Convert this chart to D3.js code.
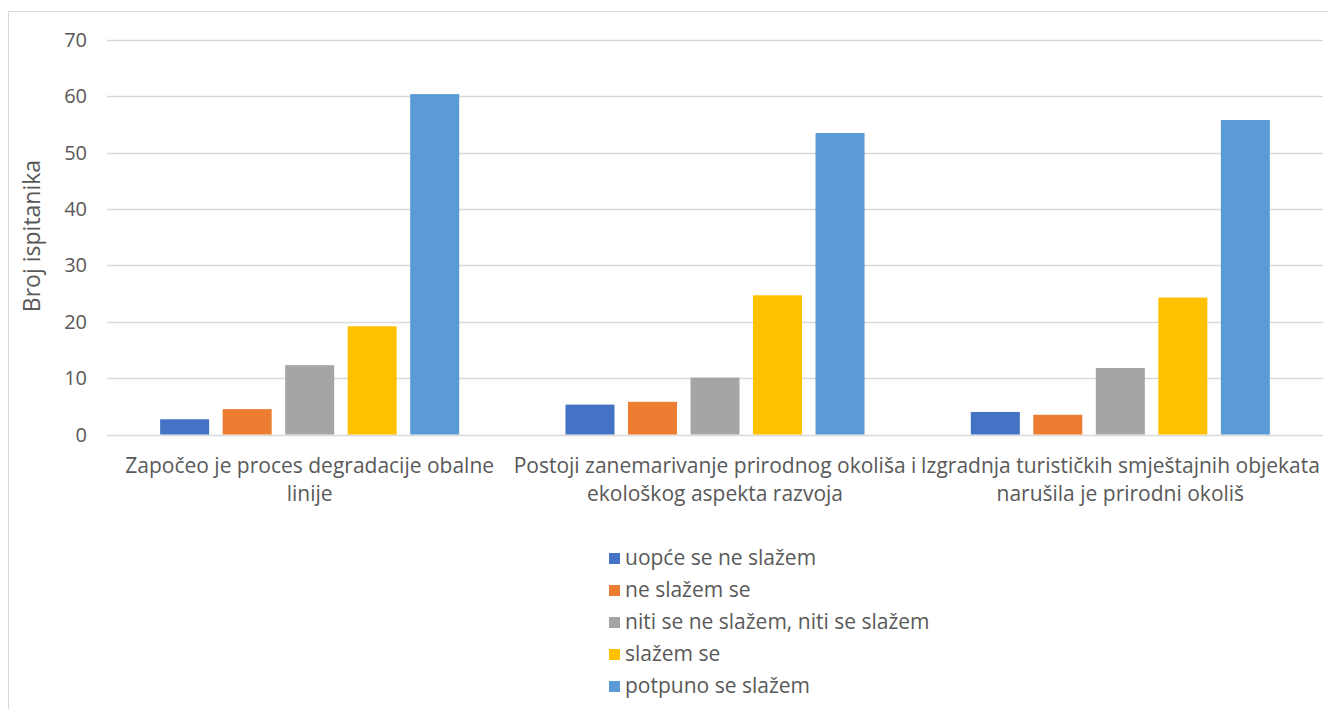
<!DOCTYPE html>
<html>
<head>
<meta charset="utf-8">
<script src="https://cdn.jsdelivr.net/npm/d3@7"></script>
<style>
  body { margin: 0; background: #fff; }
  text { font-family: "Open Sans", "Noto Sans", sans-serif; fill: #595959; }
</style>
</head>
<body>
<script>
// categories (two lines each, as wrapped in the original)
var categories = ["c1", "c2", "c3"];
var categoryLines = [
    ["Započeo je proces degradacije obalne", "linije"],
    ["Postoji zanemarivanje prirodnog okoliša i", "ekološkog aspekta razvoja"],
    ["Izgradnja turističkih smještajnih objekata", "narušila je prirodni okoliš"]
];
var seriesNames = ["uopće se ne slažem", "ne slažem se", "niti se ne slažem, niti se slažem", "slažem se", "potpuno se slažem"];
var seriesColors = ["#4472C4", "#ED7D31", "#A5A5A5", "#FFC000", "#5B9BD5"];

// values per series, one per category
var uopce = [2.7, 5.3, 4.0];
var neSlazem = [4.5, 5.8, 3.5];
var niti = [12.3, 10.1, 11.8];
var slazem = [19.2, 24.7, 24.3];
var potpuno = [60.4, 53.5, 55.8];
var seriesValues = [uopce, neSlazem, niti, slazem, potpuno];

var yTicks = [0, 10, 20, 30, 40, 50, 60, 70];

var width = 1328, height = 709;
var svg = d3.select("body").append("svg").attr("width", width).attr("height", height);

// chart border
svg.append("rect")
    .attr("x", 8.5).attr("y", 11.5)
    .attr("width", 1330).attr("height", 720)
    .attr("fill", "none").attr("stroke", "#d9d9d9");

var plotLeft = 107, plotRight = 1323, plotTop = 40, plotBottom = 434.5;

var y = d3.scaleLinear().domain([0, 70]).range([plotBottom, plotTop]);
var x0 = d3.scaleBand().domain(categories).range([plotLeft, plotRight]);
var x1 = d3.scaleBand().domain(d3.range(seriesNames.length))
    .range([0, x0.bandwidth()]).paddingInner(0.216).paddingOuter(0.85);

// gridlines
svg.selectAll("line.grid").data(yTicks).enter().append("line")
    .attr("class", "grid")
    .attr("x1", plotLeft).attr("x2", plotRight)
    .attr("y1", function (d) { return Math.round(y(d)) + 0.5; })
    .attr("y2", function (d) { return Math.round(y(d)) + 0.5; })
    .attr("stroke", "#d9d9d9").attr("stroke-width", 1.3);

// y tick labels
svg.selectAll("text.ytick").data(yTicks).enter().append("text")
    .attr("class", "ytick")
    .attr("x", 87)
    .attr("y", function (d) { return y(d); })
    .attr("dy", "0.35em")
    .attr("text-anchor", "end")
    .style("font-size", "20px")
    .text(function (d) { return d; });

// y axis title
svg.append("text")
    .attr("transform", "translate(40," + 236 + ") rotate(-90)")
    .attr("text-anchor", "middle")
    .style("font-size", "23px")
    .text("Broj ispitanika");

// bars
var groups = svg.selectAll("g.cat").data(categories).enter().append("g")
    .attr("class", "cat")
    .attr("transform", function (d) { return "translate(" + x0(d) + ",0)"; });

groups.selectAll("rect").data(function (d, ci) {
    return seriesValues.map(function (vals, si) { return { s: si, v: vals[ci] }; });
}).enter().append("rect")
    .attr("x", function (d) { return x1(d.s); })
    .attr("width", x1.bandwidth())
    .attr("y", function (d) { return y(d.v); })
    .attr("height", function (d) { return y(0) - y(d.v); })
    .attr("fill", function (d) { return seriesColors[d.s]; });

// category labels
var catLabels = svg.selectAll("text.cat").data(categories).enter().append("text")
    .attr("class", "cat")
    .attr("text-anchor", "middle")
    .style("font-size", "21px");
catLabels.selectAll("tspan").data(function (d, i) { return categoryLines[i]; }).enter().append("tspan")
    .attr("x", function () { return x0(d3.select(this.parentNode).datum()) + x0.bandwidth() / 2; })
    .attr("y", function (d, i) { return 473 + i * 28; })
    .text(function (d) { return d; });

// legend
var legend = svg.selectAll("g.legend").data(seriesNames).enter().append("g")
    .attr("class", "legend")
    .attr("transform", function (d, i) { return "translate(609," + (558 + i * 32) + ")"; });
legend.append("rect")
    .attr("x", 0).attr("y", -5).attr("width", 11).attr("height", 11)
    .attr("fill", function (d, i) { return seriesColors[i]; });
legend.append("text")
    .attr("x", 16).attr("dy", "0.35em")
    .style("font-size", "21px")
    .text(function (d) { return d; });
</script>
</body>
</html>
